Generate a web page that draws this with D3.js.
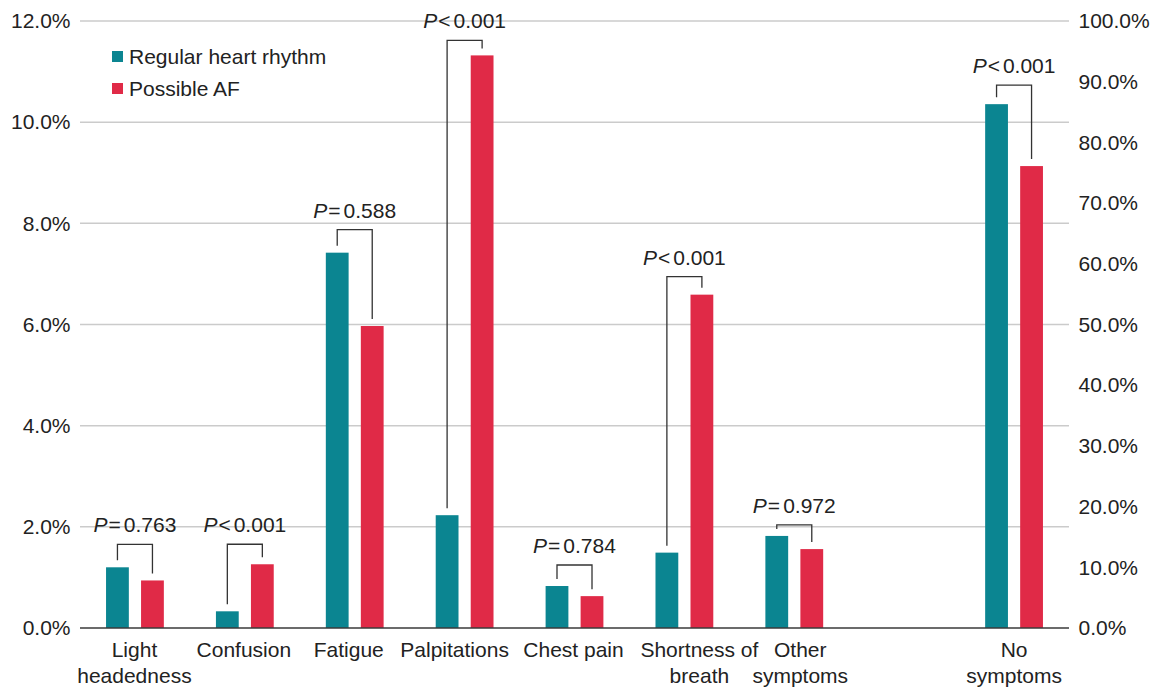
<!DOCTYPE html>
<html>
<head>
<meta charset="utf-8">
<script src="https://cdn.jsdelivr.net/npm/d3@7"></script>
<style>
  html, body { margin: 0; padding: 0; background: #fff; }
  svg { display: block; font-family: "Liberation Sans", Arial, Helvetica, sans-serif; }
</style>
</head>
<body>
<svg id="chart" width="1155" height="688"></svg>
<script>
// ---- Data ----
const categories = ["Light headedness", "Confusion", "Fatigue", "Palpitations",
                    "Chest pain", "Shortness of breath", "Other symptoms", "No symptoms"];
const categoryLines = [["Light", "headedness"], ["Confusion"], ["Fatigue"], ["Palpitations"],
                       ["Chest pain"], ["Shortness of", "breath"], ["Other", "symptoms"], ["No", "symptoms"]];
const series = ["Regular heart rhythm", "Possible AF"];
const regularRhythm = [1.20, 0.33, 7.42, 2.23, 0.83, 1.49, 1.82, 86.3];
const possibleAF    = [0.94, 1.26, 5.97, 11.32, 0.63, 6.59, 1.56, 76.1];
// which axis each category is read against ("L" = 0-12 %, "R" = 0-100 %)
const axisSide = ["L", "L", "L", "L", "L", "L", "L", "R"];
const pOperator = ["=", "<", "=", "<", "=", "<", "=", "<"];
const pValue    = ["0.763", "0.001", "0.588", "0.001", "0.784", "0.001", "0.972", "0.001"];
const leftTicks  = [0, 2, 4, 6, 8, 10, 12];
const rightTicks = [0, 10, 20, 30, 40, 50, 60, 70, 80, 90, 100];

// ---- Layout ----
const colors = { "Regular heart rhythm": "#0b8591", "Possible AF": "#e02a47" };
const plot = { left: 80, right: 1069, top: 21, bottom: 628 };
const FONT = 21;
// horizontal nudge of category labels (px)
const labelNudge = [-0.5, -1, -6, -10, -1, 15, 6, 0];
// vertical gap between the higher bar and the bracket (px)
const bracketGap = [23, 20, 23, 15, 21, 18, 11, 19];
const legGap = 7;

const svg = d3.select("#chart");

const slots = categories.slice(0, 7).concat(["__gap__", categories[7]]);
const x = d3.scaleBand().domain(slots).range([plot.left, plot.right]);
const xSub = d3.scaleBand().domain(series)
  .range([x.bandwidth() / 2 - 28.9, x.bandwidth() / 2 + 28.9])
  .paddingInner(0.349).paddingOuter(0);

const yL = d3.scaleLinear().domain([0, 12]).range([plot.bottom, plot.top]);
const yR = d3.scaleLinear().domain([0, 100]).range([plot.bottom, plot.top]);
const yFor = i => axisSide[i] === "R" ? yR : yL;

// ---- Gridlines ----
svg.append("g").selectAll("line")
  .data(leftTicks.filter(t => t > 0))
  .join("line")
  .attr("x1", plot.left).attr("x2", plot.right)
  .attr("y1", d => yL(d)).attr("y2", d => yL(d))
  .attr("stroke", "#cbcbcb").attr("stroke-width", 1.5);

// ---- Axes ----
const fmt = d => d.toFixed(1) + "%";
const gL = svg.append("g").attr("transform", `translate(${plot.left},0)`)
  .call(d3.axisLeft(yL).tickValues(leftTicks).tickFormat(fmt).tickSize(0).tickPadding(9.5));
const gR = svg.append("g").attr("transform", `translate(${plot.right},0)`)
  .call(d3.axisRight(yR).tickValues(rightTicks).tickFormat(fmt).tickSize(0).tickPadding(9.5));
[gL, gR].forEach(g => {
  g.select(".domain").remove();
  g.selectAll("text").attr("font-size", FONT).attr("fill", "#222")
    .attr("font-family", '"Liberation Sans", Arial, sans-serif');
});

// ---- Bars ----
const rows = categories.map((c, i) => ({
  cat: c, i,
  vals: [{ s: series[0], v: regularRhythm[i] }, { s: series[1], v: possibleAF[i] }]
}));

const groups = svg.append("g").selectAll("g")
  .data(rows).join("g")
  .attr("transform", d => `translate(${x(d.cat)},0)`);

groups.selectAll("rect")
  .data(d => d.vals.map(v => ({ ...v, i: d.i })))
  .join("rect")
  .attr("x", d => xSub(d.s))
  .attr("width", xSub.bandwidth())
  .attr("y", d => yFor(d.i)(d.v))
  .attr("height", d => plot.bottom - yFor(d.i)(d.v))
  .attr("fill", d => colors[d.s]);

// ---- Baseline ----
svg.append("line")
  .attr("x1", plot.left).attr("x2", plot.right)
  .attr("y1", plot.bottom).attr("y2", plot.bottom)
  .attr("stroke", "#3a3a3a").attr("stroke-width", 1.5);

// ---- Significance brackets ----
groups.each(function (d) {
  const g = d3.select(this);
  const y = yFor(d.i);
  const top0 = y(regularRhythm[d.i]);
  const top1 = y(possibleAF[d.i]);
  const by = Math.min(top0, top1) - bracketGap[d.i];
  const x0 = xSub(series[0]) + xSub.bandwidth() / 2;
  const x1 = xSub(series[1]) + xSub.bandwidth() / 2;
  g.append("path")
    .attr("d", `M${x0},${top0 - legGap}V${by}H${x1}V${top1 - legGap}`)
    .attr("fill", "none").attr("stroke", "#333").attr("stroke-width", 1.3);
  const t = g.append("text")
    .attr("x", x.bandwidth() / 2).attr("y", by - 12)
    .attr("text-anchor", "middle").attr("font-size", FONT).attr("fill", "#222");
  t.append("tspan").attr("font-style", "italic").text("P");
  t.append("tspan").attr("dx", 1).text(pOperator[d.i]);
  t.append("tspan").attr("dx", 3).text(pValue[d.i]);
});

// ---- Category labels ----
const lab = svg.append("g").selectAll("text")
  .data(rows).join("text")
  .attr("text-anchor", "middle").attr("font-size", FONT).attr("fill", "#222")
  .attr("transform", d => `translate(${x(d.cat) + x.bandwidth() / 2 + labelNudge[d.i]},0)`);
lab.selectAll("tspan")
  .data(d => categoryLines[d.i])
  .join("tspan")
  .attr("x", 0)
  .attr("y", (d, j) => 657 + j * 26)
  .text(d => d);

// ---- Legend ----
const leg = svg.append("g").selectAll("g")
  .data(series).join("g")
  .attr("transform", (d, i) => `translate(112,${51 + i * 32})`);
leg.append("rect").attr("width", 11).attr("height", 11).attr("fill", d => colors[d]);
leg.append("text").attr("x", 17).attr("y", 13).attr("font-size", FONT).attr("fill", "#222").text(d => d);
</script>
</body>
</html>
